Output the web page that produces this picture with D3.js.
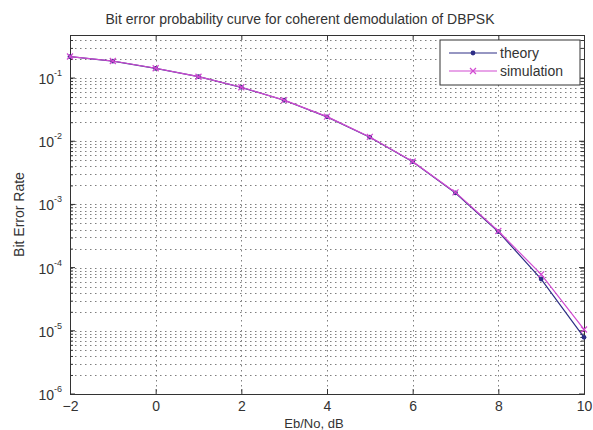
<html>
<head>
<meta charset="utf-8">
<style>
  body { margin: 0; background: #fff; }
  text { font-family: "Liberation Sans", Arial, sans-serif; fill: #333; }
</style>
</head>
<body>
<svg id="plot"></svg>
<script src="https://d3js.org/d3.v7.min.js"></script>
<script>

// Eb/No values in dB
var ebNoDb = [-2, -1, 0, 1, 2, 3, 4, 5, 6, 7, 8, 9, 10];

// bit error rates
var theoryBer = [0.218, 0.185, 0.142, 0.105, 0.0712, 0.0445, 0.0243, 0.0116, 0.00475, 0.00152, 0.00037, 0.000066, 0.0000079];
var simBer    = [0.219, 0.186, 0.143, 0.105, 0.0715, 0.0447, 0.0245, 0.0117, 0.00478, 0.00155, 0.00038, 0.000078, 0.0000105];

var xTicks = [-2, 0, 2, 4, 6, 8, 10];
var yTickExps = [-6, -5, -4, -3, -2, -1];
var legendLabels = ["theory", "simulation"];

var screen = {width: 593, height: 430};
var margins = {top: 35, bottom: 36, left: 70, right: 9};
var graph = {
    width: screen.width - margins.left - margins.right,
    height: screen.height - margins.top - margins.bottom
};

var theoryColor = "#2e2e86";
var simColor = "#d24ad2";

var svg = d3.select("#plot")
    .attr("width", screen.width)
    .attr("height", screen.height);

var xScale = d3.scaleLinear()
    .domain([-2, 10])
    .range([margins.left, margins.left + graph.width]);

var yScale = d3.scaleLog()
    .domain([1e-6, 0.48])
    .range([margins.top + graph.height, margins.top]);

var x0 = xScale.range()[0], x1 = xScale.range()[1];
var yb = yScale.range()[0], yt = yScale.range()[1];

// minor + major y values for grid/ticks
var yMinor = [];
yTickExps.forEach(function(e) {
    for (var k = 1; k <= 9; k++) {
        var v = k * Math.pow(10, e);
        if (v >= 1e-6 && v <= 0.48) yMinor.push(v);
    }
});

// grid
var grid = svg.append("g").attr("class", "grid")
    .attr("stroke", "#555")
    .attr("stroke-width", 1)
    .attr("stroke-dasharray", "1.5,3.5")
    .attr("opacity", 0.75);

grid.selectAll(".gy").data(yMinor).enter().append("line")
    .attr("x1", x0).attr("x2", x1)
    .attr("y1", function(d) { return Math.round(yScale(d)) + 0.5; })
    .attr("y2", function(d) { return Math.round(yScale(d)) + 0.5; });

grid.selectAll(".gx").data(xTicks.slice(1, -1)).enter().append("line")
    .attr("y1", yt).attr("y2", yb)
    .attr("x1", function(d) { return Math.round(xScale(d)) + 0.5; })
    .attr("x2", function(d) { return Math.round(xScale(d)) + 0.5; });

// axes (MATLAB-style, ticks inside)
var xAxisB = d3.axisBottom(xScale).tickValues(xTicks).tickSize(-5).tickPadding(7);
var xAxisT = d3.axisTop(xScale).tickValues(xTicks).tickSize(-5).tickFormat("");
var yAxisL = d3.axisLeft(yScale).tickValues(yMinor).tickSize(-3).tickFormat("");
var yAxisR = d3.axisRight(yScale).tickValues(yMinor).tickSize(-3).tickFormat("");

function styleAxis(g) {
    g.select(".domain").attr("stroke", "#333");
    g.selectAll(".tick line").attr("stroke", "#333");
    g.selectAll(".tick text").attr("font-size", 14).attr("fill", "#333")
        .attr("font-family", "'Liberation Sans', Arial, sans-serif");
}

svg.append("g").attr("transform", "translate(0," + yb + ")").call(xAxisB).call(styleAxis);
svg.append("g").attr("transform", "translate(0," + yt + ")").call(xAxisT).call(styleAxis);
svg.append("g").attr("transform", "translate(" + x0 + ",0)").call(yAxisL).call(styleAxis);
svg.append("g").attr("transform", "translate(" + x1 + ",0)").call(yAxisR).call(styleAxis);

// longer ticks at decades
var decades = yTickExps.map(function(e) { return Math.pow(10, e); });
svg.append("g").selectAll("line").data(decades).enter().append("line")
    .attr("x1", x0).attr("x2", x0 + 5)
    .attr("y1", function(d) { return yScale(d); })
    .attr("y2", function(d) { return yScale(d); })
    .attr("stroke", "#333");
svg.append("g").selectAll("line").data(decades).enter().append("line")
    .attr("x1", x1 - 5).attr("x2", x1)
    .attr("y1", function(d) { return yScale(d); })
    .attr("y2", function(d) { return yScale(d); })
    .attr("stroke", "#333");

// y tick labels 10^e
var yl = svg.append("g").selectAll("text").data(yTickExps).enter().append("text")
    .attr("x", x0 - 8)
    .attr("y", function(e) { return yScale(Math.pow(10, e)) + 6; })
    .attr("text-anchor", "end")
    .attr("font-size", 14);
yl.append("tspan").text("10");
yl.append("tspan").text(function(e) { return e; })
    .attr("font-size", 9)
    .attr("dy", -8);

// lines
var lineGen = function(vals) {
    return d3.line()
        .x(function(d, i) { return xScale(ebNoDb[i]); })
        .y(function(d) { return yScale(d); })(vals);
};

svg.append("path").attr("d", lineGen(theoryBer))
    .attr("fill", "none").attr("stroke", theoryColor).attr("stroke-width", 1.2);

svg.append("g").selectAll("circle").data(theoryBer).enter().append("circle")
    .attr("cx", function(d, i) { return xScale(ebNoDb[i]); })
    .attr("cy", function(d) { return yScale(d); })
    .attr("r", 2.4)
    .attr("fill", theoryColor);

svg.append("path").attr("d", lineGen(simBer))
    .attr("fill", "none").attr("stroke", simColor).attr("stroke-width", 1.2);

var xMark = function(sel, color) {
    sel.each(function(d, i) {
        var cx = xScale(ebNoDb[i]), cy = yScale(d), s = 3;
        d3.select(this).append("path")
            .attr("d", "M" + (cx - s) + "," + (cy - s) + "L" + (cx + s) + "," + (cy + s) +
                       "M" + (cx - s) + "," + (cy + s) + "L" + (cx + s) + "," + (cy - s))
            .attr("stroke", color).attr("stroke-width", 1.2);
    });
};
svg.append("g").selectAll("g").data(simBer).enter().append("g").call(xMark, simColor);

// title and axis labels
svg.append("text")
    .attr("x", 300).attr("y", 24)
    .attr("text-anchor", "middle")
    .attr("font-size", 14)
    .text("Bit error probability curve for coherent demodulation of DBPSK");

svg.append("text")
    .attr("x", 314).attr("y", 428)
    .attr("text-anchor", "middle")
    .attr("font-size", 13)
    .text("Eb/No, dB");

svg.append("text")
    .attr("transform", "translate(24," + ((yt + yb) / 2) + ") rotate(-90)")
    .attr("text-anchor", "middle")
    .attr("font-size", 14)
    .text("Bit Error Rate");

// legend
var legend = svg.append("g").attr("transform", "translate(440,40)");
legend.append("rect")
    .attr("width", 140).attr("height", 45)
    .attr("fill", "#fff").attr("stroke", "#333");

var items = legend.selectAll(".item").data(legendLabels).enter().append("g")
    .attr("transform", function(d, i) { return "translate(0," + (13 + i * 18) + ")"; });

items.append("line")
    .attr("x1", 9).attr("x2", 57)
    .attr("stroke", function(d, i) { return i === 0 ? theoryColor : simColor; })
    .attr("stroke-width", 1.2);

items.filter(function(d, i) { return i === 0; }).append("circle")
    .attr("cx", 33).attr("r", 2.4).attr("fill", theoryColor);
items.filter(function(d, i) { return i === 1; }).append("path")
    .attr("d", "M30,-3L36,3M30,3L36,-3")
    .attr("stroke", simColor).attr("stroke-width", 1.2);

items.append("text")
    .attr("x", 60).attr("y", 5)
    .attr("font-size", 14)
    .text(function(d) { return d; });

</script>
</body>
</html>
